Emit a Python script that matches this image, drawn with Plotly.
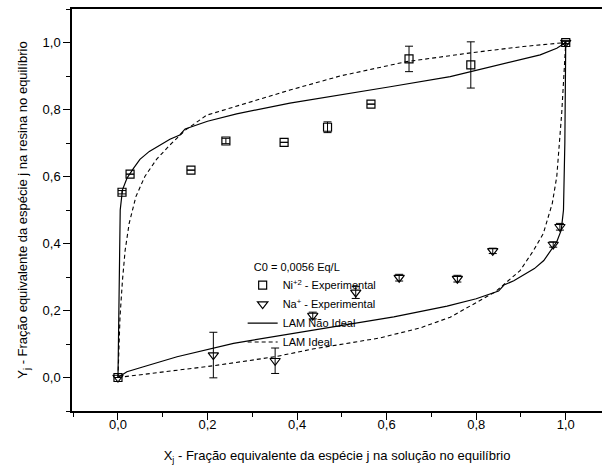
import plotly.graph_objects as go

# Experimental equilibrium data, Ni+2 (squares)
ni_x = [0.0, 0.009, 0.027, 0.163, 0.241, 0.371, 0.468, 0.565, 0.650, 0.788, 1.0]
ni_y = [0.0, 0.553, 0.607, 0.619, 0.706, 0.702, 0.747, 0.816, 0.951, 0.933, 1.0]
ni_err = [0.0, 0.005, 0.0, 0.0, 0.008, 0.0, 0.016, 0.0, 0.038, 0.069, 0.004]

# Experimental equilibrium data, Na+ (down triangles)
na_x = [0.0, 0.213, 0.351, 0.435, 0.531, 0.628, 0.758, 0.837, 0.972, 0.987, 1.0]
na_y = [0.0, 0.067, 0.050, 0.185, 0.254, 0.298, 0.295, 0.378, 0.397, 0.450, 1.0]
na_err = [0.0, 0.068, 0.038, 0.010, 0.018, 0.010, 0.010, 0.008, 0.008, 0.010, 0.004]

# LAM non-ideal model (solid)
lam_ni_x = [0.0, 0.002, 0.005, 0.010, 0.020, 0.035, 0.049, 0.070, 0.094, 0.116, 0.138,
            0.150, 0.200, 0.265, 0.384, 0.496, 0.608, 0.742, 0.868, 0.943, 0.980, 1.0]
lam_ni_y = [0.0, 0.300, 0.500, 0.560, 0.595, 0.625, 0.651, 0.675, 0.694, 0.711, 0.724,
            0.742, 0.765, 0.787, 0.819, 0.843, 0.868, 0.898, 0.938, 0.963, 0.983, 1.0]
lam_na_x = [0.0, 0.020, 0.057, 0.132, 0.258, 0.392, 0.504, 0.616, 0.735, 0.800, 0.850,
            0.862, 0.884, 0.906, 0.930, 0.951, 0.965, 0.980, 0.990, 0.995, 0.998, 1.0]
lam_na_y = [0.0, 0.017, 0.032, 0.062, 0.102, 0.132, 0.157, 0.181, 0.213, 0.235, 0.258,
            0.276, 0.289, 0.306, 0.325, 0.349, 0.375, 0.405, 0.440, 0.500, 0.700, 1.0]

# LAM ideal model (dashed)
ideal_ni_x = [0.0, 0.002, 0.0045, 0.010, 0.016, 0.025, 0.040, 0.060, 0.086, 0.116, 0.150,
              0.198, 0.272, 0.384, 0.496, 0.645, 0.793, 0.905, 1.0]
ideal_ni_y = [0.0, 0.080, 0.180, 0.290, 0.380, 0.460, 0.540, 0.600, 0.651, 0.694, 0.738,
              0.783, 0.813, 0.858, 0.900, 0.943, 0.970, 0.988, 1.0]
ideal_na_x = [0.0, 0.050, 0.213, 0.351, 0.435, 0.585, 0.675, 0.742, 0.809, 0.842, 0.898,
              0.928, 0.950, 0.970, 0.980, 0.991, 0.997, 1.0]
ideal_na_y = [0.0, 0.008, 0.035, 0.062, 0.085, 0.118, 0.148, 0.180, 0.230, 0.255, 0.319,
              0.379, 0.430, 0.520, 0.600, 0.789, 0.928, 1.0]

FONT = "Liberation Sans, Arial, sans-serif"

fig = go.Figure()

fig.add_trace(go.Scatter(
    x=ni_x, y=ni_y, mode="markers", name="Ni<sup>+2</sup> - Experimental",
    marker=dict(symbol="square-open", size=8, color="black", line=dict(width=1.2)),
    error_y=dict(type="data", array=ni_err, color="black", thickness=1, width=4),
))
fig.add_trace(go.Scatter(
    x=na_x, y=na_y, mode="markers", name="Na<sup>+</sup> - Experimental",
    marker=dict(symbol="triangle-down-open", size=9, color="black", line=dict(width=1.2)),
    error_y=dict(type="data", array=na_err, color="black", thickness=1, width=4),
))
fig.add_trace(go.Scatter(
    x=lam_ni_x, y=lam_ni_y, mode="lines", name="LAM Não Ideal", legendgroup="nonideal",
    line=dict(color="black", width=1.2),
))
fig.add_trace(go.Scatter(
    x=lam_na_x, y=lam_na_y, mode="lines", name="LAM Não Ideal", legendgroup="nonideal",
    showlegend=False, line=dict(color="black", width=1.2),
))
fig.add_trace(go.Scatter(
    x=ideal_ni_x, y=ideal_ni_y, mode="lines", name="LAM Ideal", legendgroup="ideal",
    line=dict(color="black", width=1.1, dash="4px,3px"),
))
fig.add_trace(go.Scatter(
    x=ideal_na_x, y=ideal_na_y, mode="lines", name="LAM Ideal", legendgroup="ideal",
    showlegend=False, line=dict(color="black", width=1.1, dash="4px,3px"),
))

fig.update_layout(
    width=602, height=471,
    margin=dict(l=72, r=0, t=9, b=60),
    paper_bgcolor="white", plot_bgcolor="white",
    separators=",.",
    font=dict(family=FONT, size=13, color="black"),
    legend=dict(
        x=0.322, y=0.385, xanchor="left", yanchor="top",
        bgcolor="rgba(0,0,0,0)", font=dict(size=11),
        title=dict(text="\u00a0\u00a0\u00a0C0 = 0,0056 Eq/L", font=dict(size=11)),
        itemwidth=30, tracegroupgap=0,
    ),
    xaxis=dict(
        range=[-0.1027, 1.081], tick0=0, dtick=0.2, tickformat=".1f",
        ticks="outside", ticklen=7, tickwidth=1.2, tickcolor="black",
        ticklabelstandoff=-6,
        minor=dict(dtick=0.1, ticks="outside", ticklen=4, tickwidth=1.2, tickcolor="black"),
        showline=True, linecolor="black", linewidth=1.5, mirror=True,
        showgrid=False, zeroline=False,
        title=dict(text="X<sub>j</sub> - Fração equivalente da espécie j na solução no equilíbrio",
                   font=dict(size=13), standoff=20),
    ),
    yaxis=dict(
        range=[-0.1, 1.1], tick0=0, dtick=0.2, tickformat=".1f",
        ticks="outside", ticklen=7, tickwidth=1.2, tickcolor="black",
        minor=dict(dtick=0.1, ticks="outside", ticklen=4, tickwidth=1.2, tickcolor="black"),
        showline=True, linecolor="black", linewidth=1.5, mirror=False,
        showgrid=False, zeroline=False,
        title=dict(text="Y<sub>j</sub> - Fração equivalente da espécie j na resina no equilíbrio",
                   font=dict(size=13), standoff=12),
    ),
)

fig.write_html("out.html")
